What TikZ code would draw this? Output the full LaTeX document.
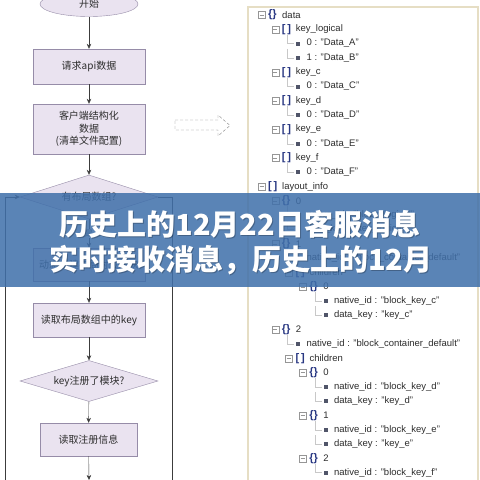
\documentclass[tikz,border=0pt]{standalone}
\usepackage{fontspec}
\setmainfont{Liberation Sans}
\newfontfamily\cjk{Noto Sans CJK SC}
\usetikzlibrary{positioning}
\usetikzlibrary{shapes.geometric}
\usetikzlibrary{arrows.meta}
\definecolor{boxfill}{RGB}{234,227,240}
\definecolor{boxline}{RGB}{150,140,168}
\definecolor{flowline}{RGB}{60,60,60}
\definecolor{treetext}{RGB}{45,45,45}
\definecolor{bracecol}{RGB}{40,55,130}
\definecolor{treeline}{RGB}{200,200,200}
\definecolor{expcol}{RGB}{150,150,150}
\definecolor{bulletcol}{RGB}{80,85,105}
\definecolor{framecol}{RGB}{230,222,196}
\definecolor{bannerblue}{RGB}{64,112,170}

\tikzset{
  flowbox/.style={draw=boxline,fill=boxfill,minimum width=112pt,minimum height=34pt,
    inner sep=0pt,align=center,text=treetext,font=\cjk\fontsize{10}{12.5}\selectfont},
  decide/.style={diamond,draw=boxline,fill=boxfill,aspect=3.2,inner sep=0pt,
    text=treetext,font=\cjk\fontsize{10}{12}\selectfont},
  flowarr/.style={draw=flowline,-{Stealth[length=5pt,width=4.5pt]}},
  treelabel/.style={anchor=west,inner sep=0pt,text=treetext,font=\fontsize{9.5}{11}\selectfont},
  bracelabel/.style={anchor=west,inner sep=0pt,text=bracecol,font=\bfseries\fontsize{11}{12}\selectfont},
  bannertext/.style={inner sep=0pt,text=white,font=\cjk\bfseries\fontsize{29}{32}\selectfont},
}

\begin{document}
\begin{tikzpicture}[x=1pt,y=-1pt]
 \useasboundingbox (0,0) rectangle (480,480);
 \fill[white] (0,0) rectangle (480,480);

 % flow chart
 \node[ellipse,draw=boxline,fill=boxfill,minimum width=98pt,minimum height=25pt,
   text=treetext,font=\cjk\fontsize{10}{12}\selectfont] (start) at (89,4) {开始};
 \node[flowbox,minimum height=35pt] (request) at (89,66.5) {请求api数据};
 \node[flowbox,minimum height=50pt] (clientdata) at (89,129) {客户端结构化\\数据\\(清单文件配置)};
 \node[decide,minimum width=138pt,minimum height=44pt] (haslayout) at (89,197) {有布局数组?};
 \node[flowbox,minimum height=33pt] (dynload) at (89,264.5) {动态创建布局对应模块};
 \node[flowbox] (readkey) at (89,320) {读取布局数组中的key};
 \node[decide,minimum width=138pt,minimum height=41pt] (keyreg) at (89,381) {key注册了模块?};
 \node[flowbox,minimum width=97pt,minimum height=33pt] (readreg) at (88.5,439.5) {读取注册信息};
 \coordinate (flowend) at (89,480);
 \coordinate (loopleft) at (5,481);
 \coordinate (loopright) at (172,481);

 \draw[flowarr] (start) -- (request);
 \draw[flowarr] (request) -- (clientdata);
 \draw[flowarr] (clientdata) -- (haslayout);
 \draw[flowarr] (haslayout) -- node[fill=white,inner sep=1pt,text=treetext,
   font=\cjk\fontsize{8}{9}\selectfont] {是} (dynload);
 \draw[flowarr] (dynload) -- (readkey);
 \draw[flowarr] (readkey) -- (keyreg);
 \draw[flowarr] (keyreg) -- (readreg);
 \draw[flowarr] (readreg) -- (flowend);
 \draw[flowarr] (loopleft) |- (haslayout.west);
 \draw[draw=flowline] (haslayout.east) -| (loopright);

 % hollow dashed arrow
 \draw[gray,dash pattern=on 3pt off 2pt] (175,120) -- (218,120) -- (218,115) -- (230,125.5)
   -- (218,136) -- (218,130) -- (175,130) -- cycle;

 % json tree
 \draw[framecol,line width=1.5pt] (248,481) -- (248,7) -- (478,7) -- (478,481);
 \foreach [count=\r from 0] \lv/\kd/\lbl in {
   0/0/data, 1/1/key\_logical, 2/2/{0 : "Data\_A"}, 2/2/{1 : "Data\_B"},
   1/1/key\_c, 2/2/{0 : "Data\_C"}, 1/1/key\_d, 2/2/{0 : "Data\_D"},
   1/1/key\_e, 2/2/{0 : "Data\_E"}, 1/1/key\_f, 2/2/{0 : "Data\_F"},
   0/1/layout\_info, 1/0/0, 2/2/{native\_id : "block\_logical"}, 2/2/{data\_key : "key\_logical"},
   1/0/1, 2/2/{native\_id : "block\_container\_default"}, 2/1/children,
   3/0/0, 4/2/{native\_id : "block\_key\_c"}, 4/2/{data\_key : "key\_c"},
   1/0/2, 2/2/{native\_id : "block\_container\_default"}, 2/1/children,
   3/0/0, 4/2/{native\_id : "block\_key\_d"}, 4/2/{data\_key : "key\_d"},
   3/0/1, 4/2/{native\_id : "block\_key\_e"}, 4/2/{data\_key : "key\_e"},
   3/0/2, 4/2/{native\_id : "block\_key\_f"}}{
   \pgfmathsetmacro\ry{15+14.3*\r}
   \pgfmathsetmacro\rx{258+13.7*\lv}
   \ifnum\kd=2
     \draw[treeline] (\rx+2,\ry-9) |- (\rx+9,\ry);
     \fill[bulletcol] (\rx+11,\ry-2) rectangle (\rx+15,\ry+2);
     \node[treelabel] (row\r) at (\rx+21,\ry) {\lbl};
   \else
     \draw[expcol,fill=white] (\rx,\ry-3.5) rectangle ++(7,7);
     \draw[expcol] (\rx+1.5,\ry) -- ++(4,0);
     \node[bracelabel] (brace\r) at (\rx+10,\ry) {\ifnum\kd=0 \{\}\else [\,]\fi};
     \node[treelabel] (row\r) at (\rx+24,\ry) {\lbl};
   \fi
 }

 % title banner
 \fill[bannerblue,opacity=0.86] (0,193) rectangle (480,287);
 \node[bannertext,text=black,opacity=0.25] (shadow1) at (241,225) {历史上的12月22日客服消息};
 \node[bannertext,text=black,opacity=0.25] (shadow2) at (242,261) {实时接收消息，历史上的12月};
 \node[bannertext] (title1) at (240,224) {历史上的12月22日客服消息};
 \node[bannertext] (title2) at (241,260) {实时接收消息，历史上的12月};
\end{tikzpicture}
\end{document}
